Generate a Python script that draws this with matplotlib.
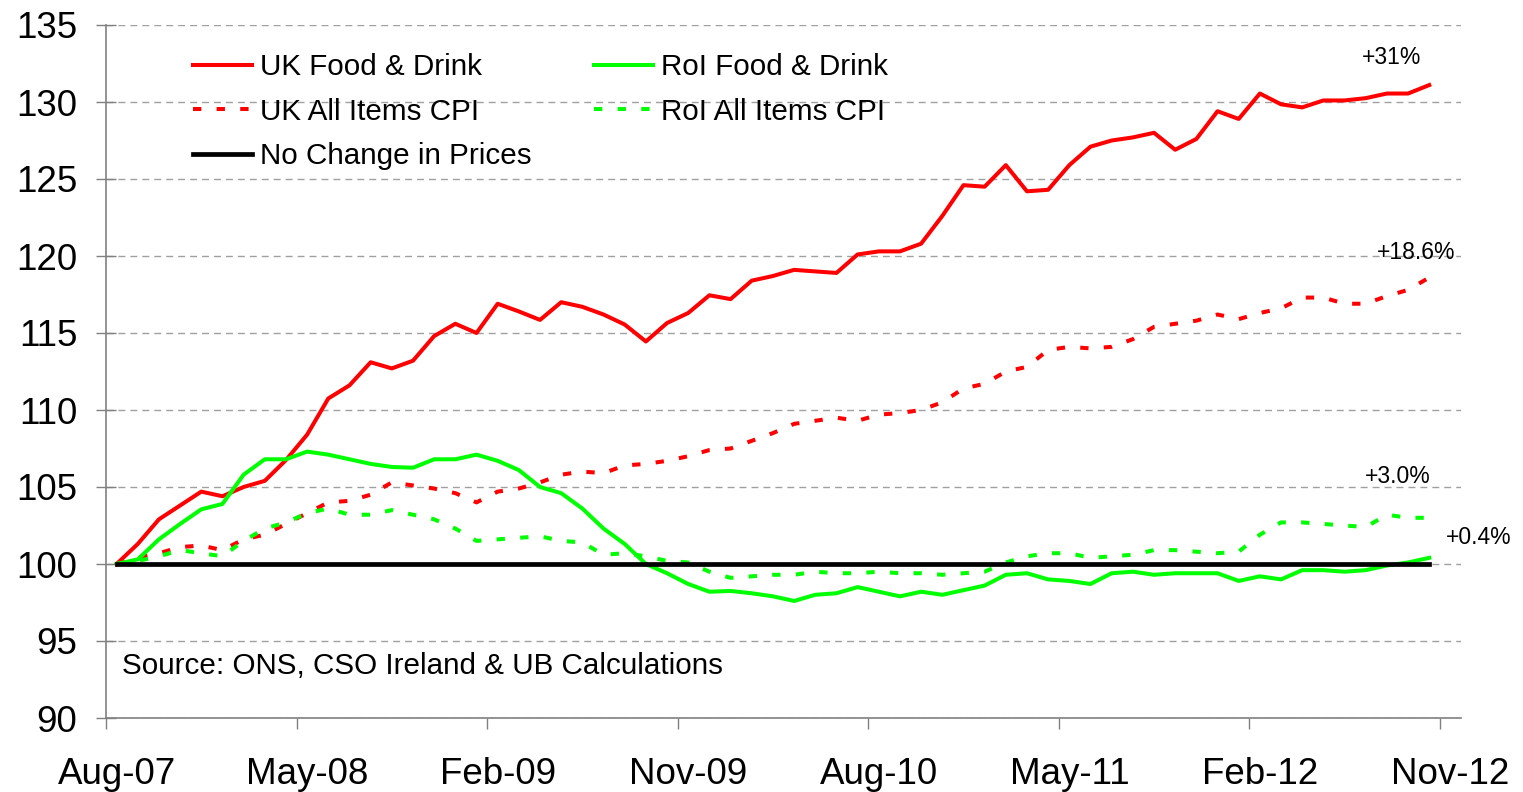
import numpy as np
import matplotlib
matplotlib.use("Agg")
import matplotlib.pyplot as plt

plt.rcParams['font.family'] = ['Liberation Sans', 'DejaVu Sans']
plt.rcParams['lines.scale_dashes'] = False

# monthly index, Aug-07 = 100 (data runs Aug-07 .. Oct-12, axis to Nov-12)
n_categories = 64
tick_labels = ['Aug-07', 'May-08', 'Feb-09', 'Nov-09', 'Aug-10', 'May-11', 'Feb-12', 'Nov-12']

uk_food = [100.0, 101.3, 102.9, 103.8, 104.7, 104.4, 105.0, 105.4, 106.75, 108.4,
           110.75, 111.6, 113.1, 112.7, 113.2, 114.8, 115.6, 115.0, 116.9, 116.4,
           115.85, 117.0, 116.7, 116.2, 115.55, 114.45, 115.65, 116.3, 117.45, 117.2,
           118.4, 118.7, 119.1, 119.0, 118.9, 120.1, 120.3, 120.3, 120.8, 122.6,
           124.6, 124.5, 125.9, 124.2, 124.3, 125.9, 127.1, 127.5, 127.7, 128.0,
           126.9, 127.6, 129.4, 128.9, 130.55, 129.85, 129.65, 130.1, 130.1, 130.25,
           130.55, 130.55, 131.1]

uk_cpi = [100.0, 100.4, 100.7, 101.1, 101.2, 100.9, 101.6, 101.9, 102.6, 103.3,
          104.0, 104.1, 104.5, 105.3, 105.1, 104.9, 104.6, 104.0, 104.7, 104.9,
          105.3, 105.8, 106.0, 105.9, 106.4, 106.5, 106.7, 107.0, 107.4, 107.5,
          108.0, 108.5, 109.1, 109.3, 109.5, 109.3, 109.7, 109.8, 110.0, 110.5,
          111.4, 111.7, 112.5, 112.8, 113.9, 114.1, 114.0, 114.1, 114.6, 115.4,
          115.6, 115.8, 116.2, 115.9, 116.3, 116.6, 117.3, 117.3, 116.9, 116.9,
          117.4, 117.8, 118.6]

roi_food = [100.0, 100.3, 101.6, 102.6, 103.55, 103.9, 105.8, 106.8, 106.8, 107.3,
            107.1, 106.8, 106.5, 106.3, 106.25, 106.8, 106.8, 107.1, 106.7, 106.1,
            105.0, 104.6, 103.6, 102.3, 101.3, 100.0, 99.4, 98.7, 98.2, 98.25,
            98.1, 97.9, 97.6, 98.0, 98.1, 98.5, 98.2, 97.9, 98.2, 98.0,
            98.3, 98.6, 99.3, 99.4, 99.0, 98.9, 98.7, 99.4, 99.5, 99.3,
            99.4, 99.4, 99.4, 98.9, 99.2, 99.0, 99.6, 99.6, 99.5, 99.6,
            99.9, 100.1, 100.4]

roi_cpi = [100.0, 100.2, 100.5, 100.9, 100.7, 100.5, 101.5, 102.3, 102.7, 103.3,
           103.6, 103.2, 103.2, 103.5, 103.2, 102.9, 102.3, 101.5, 101.6, 101.7,
           101.8, 101.5, 101.4, 100.6, 100.7, 100.5, 100.2, 100.1, 99.5, 99.1,
           99.2, 99.3, 99.3, 99.5, 99.4, 99.4, 99.5, 99.4, 99.4, 99.3,
           99.4, 99.5, 100.1, 100.5, 100.7, 100.7, 100.4, 100.5, 100.6, 100.9,
           100.9, 100.8, 100.7, 100.8, 101.9, 102.7, 102.7, 102.6, 102.5, 102.4,
           103.2, 103.0, 103.0]

no_change = [100.0] * len(uk_food)

end_labels = ['+31%', '+18.6%', '+3.0%', '+0.4%']
end_label_pos = [(60.2, 132.9), (61.4, 120.2), (60.5, 105.7), (64.35, 101.75)]

x = np.arange(len(uk_food))

fig = plt.figure(figsize=(15.23, 7.92), dpi=100)
ax = fig.add_axes([106 / 1523, 1 - 718 / 792, (1461 - 106) / 1523, (718 - 25) / 792])

red = '#FF0000'
green = '#00FF00'
dash = (0, (6, 11))

h1, = ax.plot(x, uk_food, color=red, lw=2.9, label='UK Food & Drink')
h2, = ax.plot(x, uk_cpi, color=red, lw=2.9, ls=dash, label='UK All Items CPI')
h3, = ax.plot(x, roi_food, color=green, lw=2.9, label='RoI Food & Drink')
h4, = ax.plot(x, roi_cpi, color=green, lw=2.9, ls=dash, label='RoI All Items CPI')
h5, = ax.plot(x, no_change, color='black', lw=3.4, label='No Change in Prices')

ax.set_xlim(-0.5, n_categories - 0.5)
ax.set_ylim(90, 135)
ax.set_yticks(range(90, 136, 5))
ax.set_xticks(np.arange(-0.5, n_categories - 1, 9))
ax.set_xticks(np.arange(0, n_categories, 9), minor=True)
ax.set_xticklabels(tick_labels, minor=True)

ax.tick_params(axis='x', which='major', direction='out', length=8, width=1,
               color='#808080', labelbottom=False)
ax.tick_params(axis='x', which='minor', length=0, pad=28, labelsize=26.5)
ax.tick_params(axis='y', direction='inout', length=14.4, width=1,
               color='#808080', pad=13.5, labelsize=26.5)

for s in ['top', 'right']:
    ax.spines[s].set_visible(False)
for s in ['left', 'bottom']:
    ax.spines[s].set_color('#808080')
    ax.spines[s].set_linewidth(1.2)

ax.grid(axis='y', color='#A0A0A0', linestyle=(0, (5, 3.6)), linewidth=1)
ax.set_axisbelow(True)

ax.legend(handles=[h1, h2, h5, h3, h4], ncol=2, loc='upper left',
          bbox_to_anchor=(193 / 1523, 1 - 53 / 792), bbox_transform=fig.transFigure,
          frameon=False, fontsize=21.3, handlelength=2.0, handletextpad=0.27,
          columnspacing=2.1, labelspacing=0.56, borderpad=0, borderaxespad=0)

for txt, (tx, ty) in zip(end_labels, end_label_pos):
    ax.text(tx, ty, txt, fontsize=16.5, ha='center', va='center', clip_on=False)

ax.text(0.0118, 0.075, 'Source: ONS, CSO Ireland & UB Calculations',
        transform=ax.transAxes, fontsize=21.3, ha='left', va='center')

fig.savefig('out.png', dpi=100)
